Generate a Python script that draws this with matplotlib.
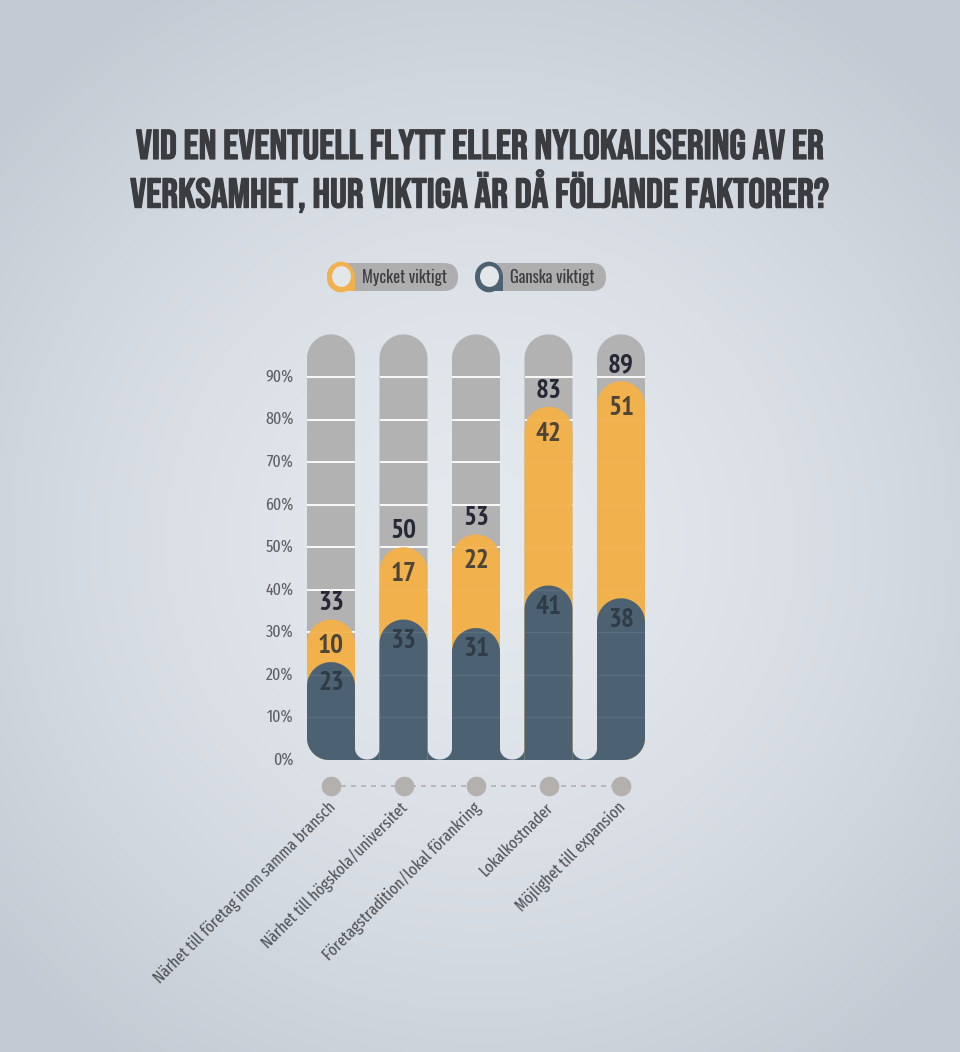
import numpy as np
import matplotlib
matplotlib.use("Agg")
import matplotlib.pyplot as plt
import matplotlib.patheffects as pe
from matplotlib import font_manager
from matplotlib.path import Path
from matplotlib.patches import PathPatch, FancyBboxPatch, Circle, Rectangle

## Data
categories = [
    "Närhet till företag inom samma bransch",
    "Närhet till högskola/universitet",
    "Företagstradition/lokal förankring",
    "Lokalkostnader",
    "Möjlighet till expansion",
]
ganska = [23, 33, 31, 41, 38]   # Ganska viktigt (dark, bottom)
mycket = [10, 17, 22, 42, 51]   # Mycket viktigt (orange, on top)
totals = [33, 50, 53, 83, 89]
yticks = [0, 10, 20, 30, 40, 50, 60, 70, 80, 90]
title_lines = [
    "VID EN EVENTUELL FLYTT ELLER NYLOKALISERING AV ER",
    "VERKSAMHET, HUR VIKTIGA ÄR DÅ FÖLJANDE FAKTORER?",
]
legend_labels = ["Mycket viktigt", "Ganska viktigt"]

GREY = "#b2b2b2"
ORANGE = "#f1b14c"
DARK = "#4c6272"
DOT = "#b3b0ad"

## Fonts (first installed wins)
installed = {f.name for f in font_manager.fontManager.ttflist}


def pick(*names):
    for nm in names:
        if nm in installed:
            return nm
    return "DejaVu Sans"


TITLE_FONT = pick("Bebas Neue", "Oswald", "Fira Sans Extra Condensed", "Roboto Condensed")
NUM_FONT = pick("PT Sans Narrow", "Fira Sans Condensed", "Roboto Condensed")
LBL_FONT = pick("Fira Sans Extra Condensed", "PT Sans Narrow", "Roboto Condensed")
LEG_FONT = pick("Oswald", "Fira Sans Extra Condensed", "PT Sans Narrow")

W, H = 960, 1052
fig = plt.figure(figsize=(W / 100, H / 100), dpi=100)
renderer = fig.canvas.get_renderer()


def fit(txt, target_px, start):
    """Scale a (horizontal) text's font size so that its width is target_px."""
    txt.set_fontsize(start)
    w = txt.get_window_extent(renderer).width
    txt.set_fontsize(start * target_px / w)


# background radial gradient
bg = fig.add_axes([0, 0, 1, 1], zorder=-10)
yy, xx = np.mgrid[0:H, 0:W]
r = np.sqrt(((xx - 480) / 640) ** 2 + ((yy - 540) / 640) ** 2)
r = np.clip(r, 0, 1) ** 1.6
c0 = np.array([0xe4, 0xe9, 0xee]) / 255
c1 = np.array([0xc3, 0xca, 0xd3]) / 255
img = c0[None, None, :] * (1 - r[..., None]) + c1[None, None, :] * r[..., None]
bg.imshow(img, aspect="auto", extent=[0, W, H, 0])
bg.set_xlim(0, W)
bg.set_ylim(H, 0)
bg.axis("off")

# chart axes, pixel geometry from the reference
y0_px, ky = 760, 4.256          # px of 0 %, px per %
x0_px, kx = 331, 72.5           # px of first bar centre, px per category
ymin, ymax = -15, 100
ax_left = x0_px - 0.5 * kx
ax_bottom = H - (y0_px - ymin * ky)
ax = fig.add_axes([ax_left / W, ax_bottom / H, 5 * kx / W, (ymax - ymin) * ky / H])
ax.set_xlim(-0.5, 4.5)
ax.set_ylim(ymin, ymax)
ax.axis("off")

hw = 24 / kx          # half bar width (x units)
ry = 24 / ky          # cap radius in % units


def bar_path(xc, top, bl=0.0, br=0.0):
    """Bar from 0 with a round cap and optional rounded bottom corners (px)."""
    verts = []
    xl, xr = xc - hw, xc + hw
    if bl > 0:
        a, b = bl / kx, bl / ky
        for t in np.linspace(np.pi, 1.5 * np.pi, 16):
            verts.append((xl + a + a * np.cos(t), b + b * np.sin(t)))
    else:
        verts.append((xl, 0))
    if br > 0:
        a, b = br / kx, br / ky
        for t in np.linspace(1.5 * np.pi, 2 * np.pi, 16):
            verts.append((xr - a + a * np.cos(t), b + b * np.sin(t)))
    else:
        verts.append((xr, 0))
    cy = top - ry
    for t in np.linspace(0, np.pi, 40):
        verts.append((xc + hw * np.cos(t), cy + ry * np.sin(t)))
    verts.append(verts[0])
    return Path(verts, closed=True)


xs = np.arange(len(categories))
n = len(xs)
corner = [(22 if i == 0 else 0, 22 if i == n - 1 else 0) for i in range(n)]

# grey background bars + white grid on them
for i, x in enumerate(xs):
    ax.add_patch(PathPatch(bar_path(x, 100, *corner[i]), fc=GREY, ec="none", zorder=1))
    for t in yticks[1:]:
        ax.plot([x - hw, x + hw], [t, t], color="white", lw=1.3, zorder=2,
                solid_capstyle="butt")

# orange = stacked total
for i, x in enumerate(xs):
    ax.add_patch(PathPatch(bar_path(x, ganska[i] + mycket[i], *corner[i]),
                           fc=ORANGE, ec="none", zorder=3))

# dark base joining the bars (concave fillets in the gaps)
gap_r = 11.5
for i in range(n - 1):
    xr, xl = xs[i] + hw, xs[i + 1] - hw
    cx, a = (xr + xl) / 2, (xl - xr) / 2
    b = gap_r / ky
    verts = [(xr, 0), (xl, 0), (xl, b)]
    for t in np.linspace(0, -np.pi, 30):
        verts.append((cx + a * np.cos(t), b + 0.96 * b * np.sin(t)))
    verts.append((xr, 0))
    ax.add_patch(PathPatch(Path(verts, closed=True), fc=DARK, ec="none", zorder=4))

for i, x in enumerate(xs):
    ax.add_patch(PathPatch(bar_path(x, ganska[i], *corner[i]), fc=DARK, ec="none", zorder=4))

# faint grid over the coloured parts
for x in xs:
    for t in yticks[1:]:
        ax.plot([x - hw, x + hw], [t, t], color="white", lw=1.0, alpha=0.08, zorder=5)

num_kw = dict(family=NUM_FONT, weight="bold", fontsize=19.5, ha="center", va="center", zorder=6)
for i, x in enumerate(xs):
    tot = ganska[i] + mycket[i]
    ax.text(x, totals[i] + 3.8, str(totals[i]), color="#262836", **num_kw)
    ax.text(x, tot - 6.3, str(mycket[i]), color="#4e4537", **num_kw)
    ax.text(x, ganska[i] - 5.0, str(ganska[i]), color="#2f3b47", **num_kw)

# y tick labels
for t in yticks:
    ax.text(-0.5 - 1 / kx, t, f"{t}%", ha="right", va="center", fontsize=12.5,
            color="#5c5f64", family=LBL_FONT)

# category dots, dashed connector and rotated labels
dot_y = -26 / ky
ax.plot([xs[0], xs[-1]], [dot_y, dot_y], color=DOT, lw=1.2, ls=(0, (3, 3)), zorder=1)
ax.scatter(xs, [dot_y] * n, s=200, color=DOT, zorder=3, linewidths=0)
cat_texts = []
for x, lab in zip(xs, categories):
    cat_texts.append(ax.text(x + 2 / kx, dot_y - 19 / ky, lab, rotation=0,
                             rotation_mode="anchor", ha="right", va="center",
                             color="#4f5257", family=LBL_FONT))
fit(cat_texts[0], 248, 14)
for t in cat_texts:
    t.set_fontsize(cat_texts[0].get_fontsize())
    t.set_rotation(45)

# title
title_texts = []
for k, line in enumerate(title_lines):
    title_texts.append(fig.text(0.5, 1 - (144 + 47 * k) / H, line, ha="center",
                                va="center", color="#3b3c3f", family=TITLE_FONT,
                                path_effects=[pe.withStroke(linewidth=0.9,
                                                            foreground="#3b3c3f")]))
fit(title_texts[0], 688, 30)
for t in title_texts[1:]:
    t.set_fontsize(title_texts[0].get_fontsize())

# legend pills
for j, (lab, col) in enumerate(zip(legend_labels, [ORANGE, DARK])):
    lx, ly = 327 + j * 148, 277
    pill = FancyBboxPatch((lx / W, 1 - (ly + 14) / H), 131 / W, 28 / H,
                          boxstyle="round,pad=0,rounding_size=0.0146",
                          transform=fig.transFigure, fc="#aeaeae", ec="none",
                          mutation_aspect=W / H)
    fig.patches.append(pill)
    fig.patches.append(Rectangle(((lx + 14) / W, 1 - (ly + 14) / H), 14 / W, 14 / H,
                                 fc=col, ec="none", transform=fig.transFigure))
    fig.patches.append(Circle(((lx + 14) / W, 1 - ly / H), 14 / W, fc=col, ec="none",
                              transform=fig.transFigure))
    fig.patches.append(Circle(((lx + 14.5) / W, 1 - (ly - 0.5) / H), 9.5 / W,
                              fc="#e4e7ea", ec="none", transform=fig.transFigure))
    lt = fig.text((lx + 35) / W, 1 - (ly + 1) / H, lab, ha="left", va="center",
                  color="#3b3d41", family=LEG_FONT)
    fit(lt, 85, 13)

fig.savefig("out.png", dpi=100)
